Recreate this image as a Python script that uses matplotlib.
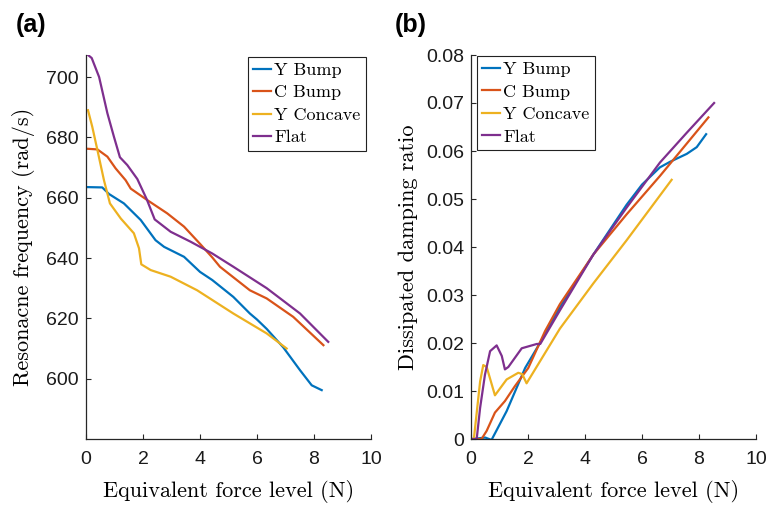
import matplotlib
matplotlib.use("Agg")
import matplotlib.pyplot as plt

# ---------------- data ----------------
series_names = ["Y Bump", "C Bump", "Y Concave", "Flat"]
colors = ["#0072BD", "#D95319", "#EDB120", "#7E2F8E"]

# (a) resonance frequency
a_ybump_x = [0.07, 0.57, 0.81, 1.33, 1.92, 2.44, 2.74, 3.44, 4.0, 4.43, 5.17, 5.75, 6.0, 6.34, 6.92, 7.51, 7.92, 8.27]
a_ybump_y = [663.5, 663.4, 661.2, 658.1, 652.6, 645.9, 643.7, 640.4, 635.4, 632.7, 627.1, 621.6, 619.6, 616.5, 610.4, 602.8, 597.8, 596.2]
a_cbump_x = [0.07, 0.4, 0.75, 1.04, 1.39, 1.57, 2.15, 2.85, 3.44, 4.02, 4.43, 4.7, 5.75, 6.34, 7.27, 8.33]
a_cbump_y = [676.2, 676.0, 673.6, 669.7, 665.8, 663.0, 659.2, 654.8, 650.4, 644.5, 640.2, 637.1, 629.3, 626.6, 620.5, 611.1]
a_ycon_x = [0.07, 0.22, 0.4, 0.63, 0.84, 1.22, 1.68, 1.86, 1.94, 2.27, 2.97, 3.9, 5.17, 6.34, 7.04]
a_ycon_y = [689.0, 683.5, 675.8, 665.8, 658.1, 653.1, 648.2, 643.2, 637.9, 636.0, 633.8, 629.3, 621.6, 615.0, 610.0]
a_flat_x = [0.07, 0.2, 0.46, 0.75, 0.98, 1.19, 1.45, 1.8, 2.13, 2.41, 2.97, 3.67, 4.43, 5.17, 6.34, 7.51, 8.5]
a_flat_y = [707.3, 706.3, 700.0, 688.0, 680.2, 673.4, 670.8, 666.2, 659.5, 652.8, 648.7, 645.4, 641.5, 637.1, 630.0, 621.6, 612.2]

# (b) dissipated damping ratio
b_ybump_x = [0.05, 0.5, 0.72, 1.25, 1.9, 2.4, 3.12, 4.29, 5.46, 6.0, 6.63, 7.0, 7.57, 7.92, 8.25]
b_ybump_y = [0.0, 0.0003, -0.0002, 0.0058, 0.0148, 0.0198, 0.0275, 0.0384, 0.0488, 0.0530, 0.0566, 0.0578, 0.0594, 0.0608, 0.0635]
b_cbump_x = [0.05, 0.37, 0.55, 0.84, 1.19, 1.54, 2.01, 2.6, 3.12, 4.29, 5.46, 6.63, 8.33]
b_cbump_y = [0.0, 0.0, 0.0017, 0.0055, 0.0079, 0.011, 0.0148, 0.0225, 0.0281, 0.0384, 0.0468, 0.0548, 0.067]
b_ycon_x = [0.1, 0.32, 0.43, 0.55, 0.84, 1.25, 1.66, 1.8, 1.95, 3.12, 4.29, 5.46, 7.04]
b_ycon_y = [0.0, 0.012, 0.0154, 0.015, 0.0091, 0.0124, 0.0138, 0.0135, 0.0116, 0.023, 0.0324, 0.0414, 0.054]
b_flat_x = [0.08, 0.2, 0.32, 0.49, 0.67, 0.9, 1.08, 1.19, 1.31, 1.78, 2.31, 2.43, 3.12, 4.29, 5.46, 6.63, 7.57, 8.53]
b_flat_y = [0.0, 0.0, 0.0065, 0.0134, 0.0183, 0.0195, 0.0173, 0.0145, 0.015, 0.0189, 0.0198, 0.0198, 0.0268, 0.0384, 0.0482, 0.0576, 0.0638, 0.070]

xticks = [0, 2, 4, 6, 8, 10]
a_yticks = [600, 620, 640, 660, 680, 700]
b_yticks = [0, 0.01, 0.02, 0.03, 0.04, 0.05, 0.06, 0.07, 0.08]
b_yticklabels = ["0", "0.01", "0.02", "0.03", "0.04", "0.05", "0.06", "0.07", "0.08"]

# ---------------- figure ----------------
W, H = 767, 505
fig = plt.figure(figsize=(W / 100, H / 100), dpi=100)

serif = "cmr10"
tickfont = "Liberation Sans"


def style_axes(ax):
    for s in ["top", "right"]:
        ax.spines[s].set_visible(False)
    for s in ["left", "bottom"]:
        ax.spines[s].set_color("#262626")
        ax.spines[s].set_linewidth(0.9)
    ax.tick_params(direction="in", length=3.5, width=0.8, color="#262626",
                   labelsize=14, labelcolor="#1a1a1a")
    ax.tick_params(axis="x", pad=9)
    ax.tick_params(axis="y", pad=5)
    for lab in ax.get_xticklabels() + ax.get_yticklabels():
        lab.set_fontfamily(tickfont)


ax1 = fig.add_axes([86 / W, (H - 439) / H, 285 / W, 384 / H])
ax2 = fig.add_axes([471 / W, (H - 439) / H, 285 / W, 384 / H])

a_data = [(a_ybump_x, a_ybump_y), (a_cbump_x, a_cbump_y), (a_ycon_x, a_ycon_y), (a_flat_x, a_flat_y)]
b_data = [(b_ybump_x, b_ybump_y), (b_cbump_x, b_cbump_y), (b_ycon_x, b_ycon_y), (b_flat_x, b_flat_y)]

for (x, y), c, n in zip(a_data, colors, series_names):
    ax1.plot(x, y, color=c, lw=1.6, label=n)
for (x, y), c, n in zip(b_data, colors, series_names):
    ax2.plot(x, y, color=c, lw=1.6, label=n)

ax1.set_xlim(0, 10)
ax1.set_ylim(580, 707.3)
ax1.set_xticks(xticks)
ax1.set_yticks(a_yticks)
ax2.set_xlim(0, 10)
ax2.set_ylim(0, 0.08)
ax2.set_xticks(xticks)
ax2.set_yticks(b_yticks)
ax2.set_yticklabels(b_yticklabels)

style_axes(ax1)
style_axes(ax2)

lab_fs = 16
ax1.set_xlabel("Equivalent force level (N)", fontfamily=serif, fontsize=lab_fs, labelpad=8)
ax2.set_xlabel("Equivalent force level (N)", fontfamily=serif, fontsize=lab_fs, labelpad=8)
ax1.set_ylabel("Resonacne frequency (rad/s)", fontfamily=serif, fontsize=lab_fs, labelpad=8)
ax2.set_ylabel("Dissipated damping ratio", fontfamily=serif, fontsize=lab_fs, labelpad=6)

leg_kw = dict(prop={"family": serif, "size": 13}, frameon=True, fancybox=False,
              framealpha=1, edgecolor="#222222", handlelength=1.0, handletextpad=0.15,
              labelspacing=0.38, borderpad=0.3, borderaxespad=0)
l1 = ax1.legend(loc="upper right", bbox_to_anchor=(0.982, 0.995), **leg_kw)
l2 = ax2.legend(loc="upper left", bbox_to_anchor=(0.021, 0.997), **leg_kw)
for l in (l1, l2):
    l.get_frame().set_linewidth(0.8)

fig.text(16 / W, 1 - 25 / H, "(a)", fontsize=18, fontweight="bold", fontfamily=tickfont, va="center")
fig.text(395 / W, 1 - 25 / H, "(b)", fontsize=18, fontweight="bold", fontfamily=tickfont, va="center")

fig.savefig("out.png", dpi=100)
